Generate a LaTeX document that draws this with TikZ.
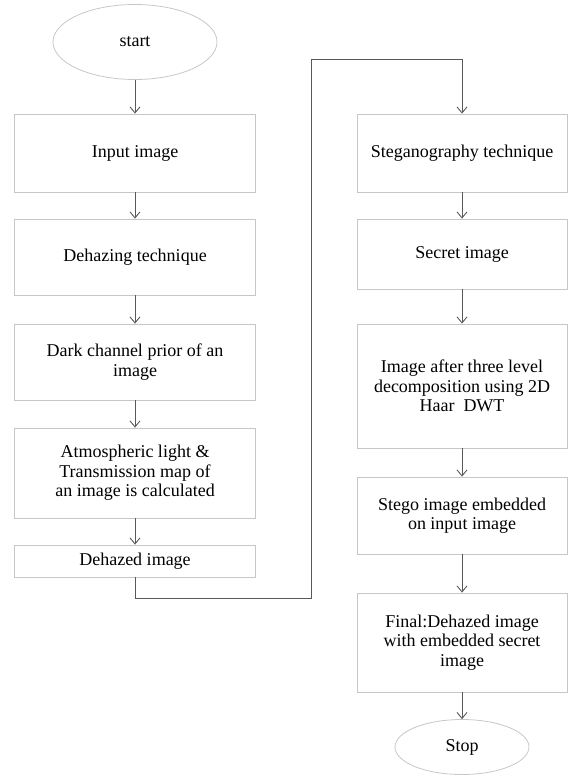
\documentclass[tikz,border=0pt]{standalone}
\usepackage{fontspec}
\setmainfont{Liberation Serif}
\usetikzlibrary{arrows.meta,shapes.geometric}
\begin{document}
\begin{tikzpicture}[x=1pt,y=1pt,
  box/.style={draw=black!22,line width=0.8pt,align=center,inner sep=2pt,
    font=\fontsize{18}{19.5}\selectfont},
  lbox/.style={box,minimum width=241pt},
  rbox/.style={box,minimum width=210pt},
  term/.style={box,ellipse},
  flow/.style={draw=black!65,line width=0.9pt,-{Straight Barb[length=6pt,width=10pt]}}]
  \useasboundingbox (0,0) rectangle (569,-776);
  \node[term,minimum width=164pt,minimum height=75pt] (start) at (135,-42) {start};
  \node[lbox,minimum height=78pt] (input) at (135,-153) {Input image};
  \node[lbox,minimum height=76pt] (dehaze) at (135,-257) {Dehazing technique};
  \node[lbox,minimum height=76pt] (dark) at (135,-362) {Dark channel prior of an\\image};
  \node[lbox,minimum height=90pt] (atmos) at (135,-473) {Atmospheric light \&\\Transmission map of\\an image is calculated};
  \node[lbox,minimum height=32pt] (dehazed) at (135,-561) {Dehazed image};
  \node[rbox,minimum height=78pt] (steg) at (462,-153) {Steganography technique};
  \node[rbox,minimum height=70pt] (secret) at (462,-254) {Secret image};
  \node[rbox,minimum height=124pt] (haar) at (462,-386) {Image after three level\\decomposition using 2D\\Haar~~DWT};
  \node[rbox,minimum height=77pt] (stego) at (462,-515.5) {Stego image embedded\\on input image};
  \node[rbox,minimum height=99pt] (final) at (462,-642.5) {Final:Dehazed image\\with embedded secret\\image};
  \node[term,minimum width=134pt,minimum height=55pt] (stop) at (462,-747) {Stop};
  \coordinate (c1) at (311,-598);
  \coordinate (c2) at (311,-59);
  \draw[flow] (start) -- (input);
  \draw[flow] (input) -- (dehaze);
  \draw[flow] (dehaze) -- (dark);
  \draw[flow] (dark) -- (atmos);
  \draw[flow] (atmos) -- (dehazed);
  \draw[flow] (dehazed.south) |- (c1) -- (c2) -| (steg.north);
  \draw[flow] (steg) -- (secret);
  \draw[flow] (secret) -- (haar);
  \draw[flow] (haar) -- (stego);
  \draw[flow] (stego) -- (final);
  \draw[flow] (final) -- (stop);
\end{tikzpicture}
\end{document}
